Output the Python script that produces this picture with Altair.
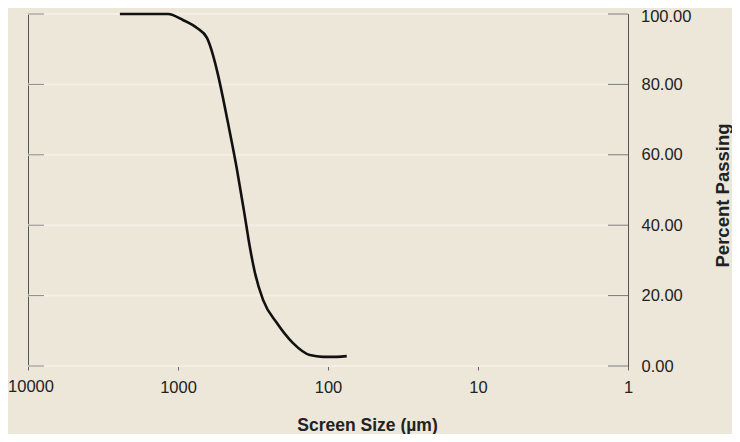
import altair as alt
import pandas as pd

# Curve data (screen size in µm, percent passing)
sizes = [2440, 1800, 1300, 1166, 927, 747, 641, 585, 541, 501, 464, 404, 363, 331, 307, 271, 219, 171, 132, 108, 87, 75]
percent = [100, 100, 100, 100, 98.3, 96, 93.2, 88.4, 82.7, 76.1, 69, 55.7, 44, 33.5, 26.5, 18.8, 12.2, 6.5, 3.1, 2.6, 2.6, 2.8]

x_ticks = [10000, 1000, 100, 10, 1]
y_ticks = [0, 20, 40, 60, 80, 100]

curve = pd.DataFrame({"size": sizes, "pct": percent})
grid = pd.DataFrame({"pct": y_ticks})
edge_x_label = pd.DataFrame({"size": [x_ticks[0]], "label": [str(x_ticks[0])]})
edge_y_label = pd.DataFrame({"pct": [y_ticks[-1]], "label": [f"{y_ticks[-1]:.2f}"]})

BG = "#ece7d9"
FONT = "Liberation Sans"

xscale = alt.Scale(type="log", domain=[1, 10000], reverse=True)
yscale = alt.Scale(domain=[0, 100])

line = alt.Chart(curve).mark_line(color="#111111", strokeWidth=2.6, interpolate="monotone").encode(
    x=alt.X("size:Q", scale=xscale,
            axis=alt.Axis(values=x_ticks, format="d", title="Screen Size (µm)", grid=False,
                          tickSize=4, tickColor="#666", domainColor="#555",
                          labelExpr="datum.value == 10000 ? '' : datum.label",
                          labelFont=FONT, labelFontSize=16.5, labelColor="#222", labelPadding=9,
                          titleFont=FONT, titleFontSize=17.5, titleFontWeight="bold", titleColor="#222",
                          titleX=339, titleY=64, titleBaseline="alphabetic", titleAlign="center",
                          labelFlush=False)),
    y=alt.Y("pct:Q", scale=yscale,
            axis=alt.Axis(orient="right", values=y_ticks, format=".2f", title="Percent Passing",
                          grid=False, ticks=False, domainColor="#555",
                          labelExpr="datum.value == 100 ? '' : datum.label",
                          labelFont=FONT, labelFontSize=16.5, labelColor="#222", labelPadding=13,
                          labelFlush=False,
                          titleFont=FONT, titleFontSize=18.5, titleFontWeight="bold", titleColor="#222",
                          titleAngle=270, titleX=100, titleY=181, titleBaseline="alphabetic",
                          titleAlign="center")),
)

# edge labels drawn as text so they can be nudged inside the page edge
first_x_label = alt.Chart(edge_x_label).mark_text(
    font=FONT, fontSize=16.5, color="#222", baseline="top", align="center", dx=3
).encode(x=alt.X("size:Q", scale=xscale), y=alt.value(365), text="label:N")
top_y_label = alt.Chart(edge_y_label).mark_text(
    font=FONT, fontSize=16.5, color="#222", baseline="top", align="left", dy=-5
).encode(y=alt.Y("pct:Q", scale=yscale), x=alt.value(613), text="label:N")

gridlines = alt.Chart(grid).mark_rule(color="#f3efe6", strokeWidth=2).encode(
    y=alt.Y("pct:Q", scale=yscale), x=alt.value(0), x2=alt.value(600)
)
right_ticks = alt.Chart(grid).mark_rule(color="#777", strokeWidth=1).encode(
    y=alt.Y("pct:Q", scale=yscale), x=alt.value(580), x2=alt.value(600)
)
left_ticks = alt.Chart(grid).mark_rule(color="#888", strokeWidth=1).encode(
    y=alt.Y("pct:Q", scale=yscale), x=alt.value(0), x2=alt.value(16)
)

chart = alt.layer(gridlines, left_ticks, right_ticks, line, first_x_label, top_y_label).properties(
    width=600, height=352,
    autosize="none",
    padding={"left": 20, "top": 6, "right": 104, "bottom": 68},
    background=BG,
).configure_view(stroke="#555", strokeWidth=1, clip=False)

chart.save("out.html", embed_options={"renderer": "svg", "actions": False})
